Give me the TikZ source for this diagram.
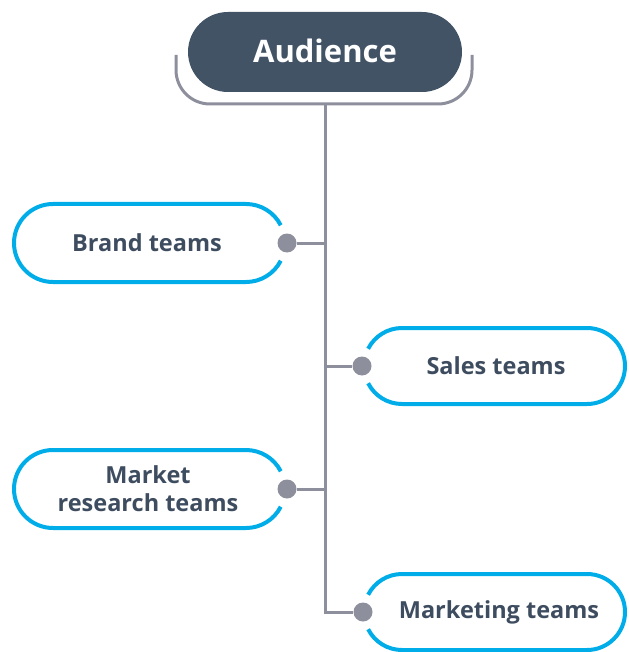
\documentclass[tikz,border=0pt]{standalone}
\usepackage{fontspec}
\setmainfont{Open Sans}
\definecolor{hdr}{HTML}{435366}
\definecolor{cyanb}{HTML}{00ADE8}
\definecolor{grayl}{HTML}{8D8F9C}
\definecolor{txt}{HTML}{3E4C60}
\tikzset{
  conn/.style={draw=grayl, line width=3pt},
  pillline/.style={draw=cyanb, line width=4pt},
  dotn/.style={circle, fill=grayl, inner sep=0pt, minimum size=19pt},
  lbl/.style={text=txt, font=\bfseries\fontsize{23.5}{28}\selectfont, align=center},
}
\begin{document}
\begin{tikzpicture}[x=1pt,y=-1pt]
\useasboundingbox (0,0) rectangle (628,652);
\begin{scope}
\clip (0,0) rectangle (628,652);
% header
\fill[hdr, rounded corners=40pt] (188,12) rectangle (462,92);
\node[text=white, font=\bfseries\fontsize{31}{36}\selectfont] (aud) at (325,51) {Audience};
% bracket
\draw[conn, rounded corners=34pt] (176,55) -- (176,104) -- (472,104) -- (472,55);
\coordinate (top) at (325,104);
\coordinate (j1) at (325,243);
\coordinate (j2) at (325,366);
\coordinate (j3) at (325,489);
\coordinate (j4) at (325,612);
% left pills
\draw[pillline] (246,243) ++(27:39) arc (27:90:39) -- (53,282) arc (90:270:39) -- (246,204) arc (270:333:39);
\draw[pillline] (246,489) ++(27:39) arc (27:90:39) -- (53,528) arc (90:270:39) -- (246,450) arc (270:333:39);
% right pills
\draw[pillline] (402,366) ++(153:38) arc (153:90:38) -- (587,404) arc (90:-90:38) -- (402,328) arc (270:207:38);
\draw[pillline] (402,612) ++(153:38) arc (153:90:38) -- (587,650) arc (90:-90:38) -- (402,574) arc (270:207:38);
% labels
\node[lbl] (brand) at (147,243) {Brand teams};
\node[lbl] (sales) at (496,366) {Sales teams};
\node[lbl] (market) at (148,489) {Market\\research teams};
\node[lbl] (mkt) at (499,612) {Marketing teams};
% dots
\node[dotn] (d1) at (287,243) {};
\node[dotn] (d2) at (362,366) {};
\node[dotn] (d3) at (287,489) {};
\node[dotn] (d4) at (363,612) {};
% connectors
\draw[conn] (top) -- (j4) -- (d4);
\draw[conn] (j1) -- (d1);
\draw[conn] (j2) -- (d2);
\draw[conn] (j3) -- (d3);
\end{scope}
\end{tikzpicture}
\end{document}
